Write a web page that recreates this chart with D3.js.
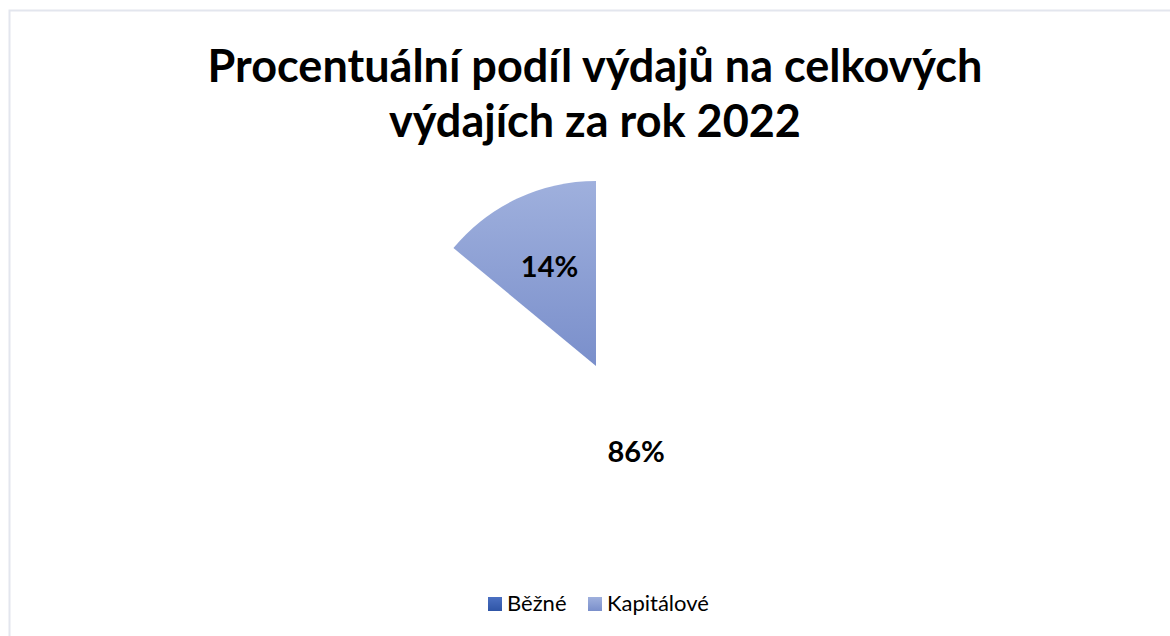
<!DOCTYPE html>
<html>
<head>
<meta charset="utf-8">
<script src="https://cdn.jsdelivr.net/npm/d3@7"></script>
<style>
  html, body { margin: 0; padding: 0; background: #fff; }
  svg { display: block; }
  text { font-family: Lato, "Open Sans", "Noto Sans", sans-serif; }
</style>
</head>
<body>
<svg id="chart" width="1170" height="636"></svg>
<script>
// Share of expenditure types in total expenditure, 2022 (%)
const categories = ["Běžné", "Kapitálové"];
const shares = [86, 14];
const titleLines = ["Procentuální podíl výdajů na celkových", "výdajích za rok 2022"];

const W = 1170, H = 636;
const svg = d3.select("#chart");

// chart area frame
svg.append("path")
  .attr("d", "M9.5,636 V10.5 H1170")
  .attr("fill", "none")
  .attr("stroke", "#e3e6ee")
  .attr("stroke-width", 2);

// gradients
const defs = svg.append("defs");
const gradKap = defs.append("linearGradient").attr("id", "gKap")
  .attr("x1", 0).attr("y1", 0).attr("x2", 0).attr("y2", 1);
gradKap.append("stop").attr("offset", "0%").attr("stop-color", "#9fb0dd");
gradKap.append("stop").attr("offset", "100%").attr("stop-color", "#7a8fcb");
const gradBez = defs.append("linearGradient").attr("id", "gBez")
  .attr("x1", 0).attr("y1", 0).attr("x2", 0).attr("y2", 1);
gradBez.append("stop").attr("offset", "0%").attr("stop-color", "#4b70c2");
gradBez.append("stop").attr("offset", "100%").attr("stop-color", "#2f55a6");

const sliceFill = d3.scaleOrdinal().domain(categories).range(["#ffffff", "url(#gKap)"]);
const swatchFill = d3.scaleOrdinal().domain(categories).range(["url(#gBez)", "url(#gKap)"]);

// title
const title = svg.append("text")
  .attr("text-anchor", "middle")
  .attr("font-weight", "bold")
  .attr("font-size", 45)
  .attr("fill", "#000");
titleLines.forEach((t, i) => {
  title.append("tspan").attr("x", 595).attr("y", 82 + i * 55).text(t);
});

// pie
const cx = 596, cy = 366, r = 185;
const pie = d3.pie().sort(null).value(d => d.v);
const data = pie(categories.map((c, i) => ({ c, v: shares[i] })));
const arc = d3.arc().innerRadius(0).outerRadius(r);
const g = svg.append("g").attr("transform", `translate(${cx},${cy})`);

g.selectAll("path.slice").data(data).join("path")
  .attr("class", "slice")
  .attr("d", arc)
  .attr("fill", d => sliceFill(d.data.c));

// data labels
const labelRadius = { "Běžné": 0.51 * r, "Kapitálové": 0.59 * r };
g.selectAll("text.lbl").data(data).join("text")
  .attr("class", "lbl")
  .attr("transform", d => {
    const a = (d.startAngle + d.endAngle) / 2;
    const rr = labelRadius[d.data.c];
    return `translate(${rr * Math.sin(a)},${-rr * Math.cos(a)})`;
  })
  .attr("text-anchor", "middle")
  .attr("dy", "0.35em")
  .attr("font-weight", "bold")
  .attr("font-size", 29)
  .text(d => d.data.v + "%");

// legend
const legend = svg.append("g").attr("transform", "translate(488,597)");
const legendX = [0, 100];
categories.forEach((c, i) => {
  const item = legend.append("g").attr("transform", `translate(${legendX[i]},0)`);
  item.append("rect").attr("width", 14).attr("height", 14).attr("fill", swatchFill(c));
  item.append("text").attr("x", 19).attr("y", 14).attr("font-size", 22).attr("fill", "#000").text(c);
});
</script>
</body>
</html>
